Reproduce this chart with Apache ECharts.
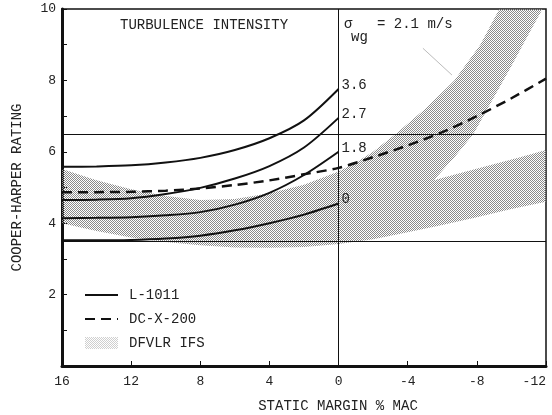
<!DOCTYPE html>
<html>
<head>
<meta charset="utf-8">
<script src="https://cdn.jsdelivr.net/npm/echarts@6/dist/echarts.min.js"></script>
<style>
  html, body { margin: 0; padding: 0; background: #fff; }
  #main { width: 552px; height: 415px; }
</style>
</head>
<body>
<div id="main"></div>
<script>
// static margin (% MAC) for the L-1011 curves
var margin = [16, 14, 12, 10, 8, 6, 4, 2, 0];
// L-1011 ratings, one array per gust level
var l1011_36 = [5.58, 5.59, 5.62, 5.70, 5.83, 6.05, 6.38, 6.88, 7.76];
var l1011_27 = [4.65, 4.66, 4.70, 4.82, 4.99, 5.25, 5.60, 6.12, 6.95];
var l1011_18 = [4.14, 4.15, 4.17, 4.22, 4.31, 4.52, 4.85, 5.35, 6.00];
var l1011_0  = [3.52, 3.52, 3.53, 3.57, 3.65, 3.80, 4.00, 4.24, 4.55];
var gustLabels = ['3.6', '2.7', '1.8', '0'];

// DC-X-200
var dcxMargin = [16, 14, 12, 10, 8, 6, 4, 2, 0, -2, -4, -6, -8, -10, -12];
var dcxRating = [4.87, 4.87, 4.88, 4.91, 4.97, 5.07, 5.20, 5.37, 5.55, 5.85, 6.18, 6.55, 7.00, 7.50, 8.05];

// DFVLR IFS band outline [margin, rating]
var ifsOutline = [
  [16, 5.52], [14, 5.2], [12, 4.95], [10, 4.76], [8, 4.65], [6, 4.68], [4, 4.84],
  [2, 5.08], [0, 5.45], [-1, 5.7], [-2, 6.0], [-3.3, 6.5], [-5, 7.2], [-6.7, 8.0],
  [-8.2, 9.0], [-9.3, 10], [-11.8, 10], [-11, 9.3], [-10, 8.4], [-8.9, 7.45],
  [-7.8, 6.5], [-6.7, 5.85], [-5.5, 5.2], [-7, 5.4], [-8.8, 5.63], [-10.5, 5.85],
  [-12, 6.05], [-12, 4.6], [-10, 4.4], [-8, 4.17], [-6, 3.95], [-4, 3.75],
  [-2, 3.55], [0, 3.42], [2, 3.33], [4, 3.31], [6, 3.32], [8, 3.38], [10, 3.47],
  [12, 3.6], [14, 3.78], [16, 4.0]
];

var refLinesY = [6.5, 3.5];
var refLineX = 0;
var leader = [[-4.88, 8.9], [-6.56, 8.15]];

var xLabels = [16, 12, 8, 4, 0, -4, -8, -12];
var yLabels = [2, 4, 6, 8, 10];

var mono = 'Liberation Mono';

function stipple(dot) {
  var c = document.createElement('canvas');
  c.width = 2; c.height = 2;
  var ctx = c.getContext('2d');
  ctx.fillStyle = dot;
  ctx.fillRect(0, 0, 1, 1);
  ctx.fillRect(1, 1, 1, 1);
  return { image: c, repeat: 'repeat' };
}
var shade = stipple('#8a8a8a');
var shadeLegend = stipple('#cfcfcf');

var myChart = echarts.init(document.getElementById('main'));

function l1011Series(vals, label) {
  var data = margin.map(function (m, i) { return [m, vals[i]]; });
  var last = data[data.length - 1];
  return {
    name: 'L-1011',
    type: 'line',
    data: data,
    smooth: 0.3,
    symbol: 'none',
    z: 5,
    lineStyle: { color: '#111', width: 2 },
    itemStyle: { color: '#111' },
    markPoint: {
      symbol: 'circle',
      symbolSize: 0,
      silent: true,
      label: {
        show: true, position: 'right', distance: 3, offset: [0, -4],
        formatter: label, color: '#222', fontFamily: mono, fontSize: 14
      },
      data: [{ coord: last }]
    }
  };
}

var option = {
  animation: false,
  grid: {
    left: 62, right: 6, top: 9, bottom: 49,
    containLabel: false,
    outerBoundsMode: 'none',
    show: true, borderColor: '#111', borderWidth: 1.5
  },
  legend: {
    orient: 'vertical',
    left: 79, top: 283,
    itemWidth: 33, itemHeight: 12, itemGap: 10,
    textStyle: { fontFamily: mono, fontSize: 14, color: '#222', padding: [0, 0, 0, 6] },
    data: [
      { name: 'L-1011', itemStyle: { opacity: 0 } },
      { name: 'DC-X-200', itemStyle: { opacity: 0 } },
      { name: 'DFVLR IFS', icon: 'rect', itemStyle: { color: shadeLegend, opacity: 1 } }
    ]
  },
  xAxis: {
    type: 'value',
    inverse: true,
    min: -12, max: 16, interval: 4,
    name: 'STATIC MARGIN % MAC',
    nameLocation: 'middle',
    nameGap: 33,
    nameTextStyle: { fontFamily: mono, fontSize: 14, color: '#222', padding: [0, 0, 0, 68] },
    axisLine: { show: true, onZero: false, lineStyle: { color: '#111', width: 3 } },
    axisTick: { show: true, inside: true, length: 5, lineStyle: { color: '#111' } },
    axisLabel: {
      margin: 9, fontFamily: mono, fontSize: 13, color: '#222',
      alignMinLabel: 'right',
      formatter: function (v) { return xLabels.indexOf(v) >= 0 ? String(v) : ''; }
    },
    splitLine: { show: false }
  },
  yAxis: {
    type: 'value',
    min: 0, max: 10, interval: 1,
    name: 'COOPER-HARPER RATING',
    nameLocation: 'middle',
    nameGap: 38,
    nameTextStyle: { fontFamily: mono, fontSize: 14, color: '#222' },
    axisLine: { show: true, onZero: false, lineStyle: { color: '#111', width: 3 } },
    axisTick: { show: true, inside: true, length: 5, lineStyle: { color: '#111' } },
    axisLabel: {
      margin: 6, fontFamily: mono, fontSize: 13, color: '#222',
      formatter: function (v) { return yLabels.indexOf(v) >= 0 ? String(v) : ''; }
    },
    splitLine: { show: false }
  },
  graphic: [
    { type: 'text', left: 120, top: 18, style: { text: 'TURBULENCE INTENSITY', font: '14px "Liberation Mono"', fill: '#222' } },
    { type: 'text', left: 344, top: 17, style: { text: 'σ', font: '14px "Liberation Mono"', fill: '#222' } },
    { type: 'text', left: 351, top: 30, style: { text: 'wg', font: '14px "Liberation Mono"', fill: '#222' } },
    { type: 'text', left: 377, top: 17, style: { text: '= 2.1 m/s', font: '14px "Liberation Mono"', fill: '#222' } }
  ],
  series: [
    {
      name: 'DFVLR IFS',
      type: 'custom',
      z: 1,
      silent: true,
      itemStyle: { color: shade },
      encode: { x: 0, y: 1 },
      data: ifsOutline,
      renderItem: function (params, api) {
        if (params.dataIndex !== 0) return;
        var pts = ifsOutline.map(function (p) { return api.coord(p); });
        return { type: 'polygon', shape: { points: pts }, style: { fill: shade, stroke: null } };
      }
    },
    l1011Series(l1011_36, gustLabels[0]),
    l1011Series(l1011_27, gustLabels[1]),
    l1011Series(l1011_18, gustLabels[2]),
    l1011Series(l1011_0, gustLabels[3]),
    {
      name: 'DC-X-200',
      type: 'line',
      data: dcxMargin.map(function (m, i) { return [m, dcxRating[i]]; }),
      smooth: 0.3,
      symbol: 'none',
      z: 5,
      lineStyle: { color: '#111', width: 2.5, type: [10, 6] },
      itemStyle: { color: '#111' },
      markLine: {
        silent: true,
        symbol: 'none',
        label: { show: false },
        lineStyle: { color: '#111', width: 1, type: 'solid' },
        data: [
          { yAxis: refLinesY[0] },
          { yAxis: refLinesY[1] },
          { xAxis: refLineX },
          [{ coord: leader[0], lineStyle: { color: '#aaa', width: 0.8 } }, { coord: leader[1] }]
        ]
      }
    }
  ]
};

myChart.setOption(option);
window.addEventListener('resize', function () {
  myChart.resize();
});
</script>
</body>
</html>
